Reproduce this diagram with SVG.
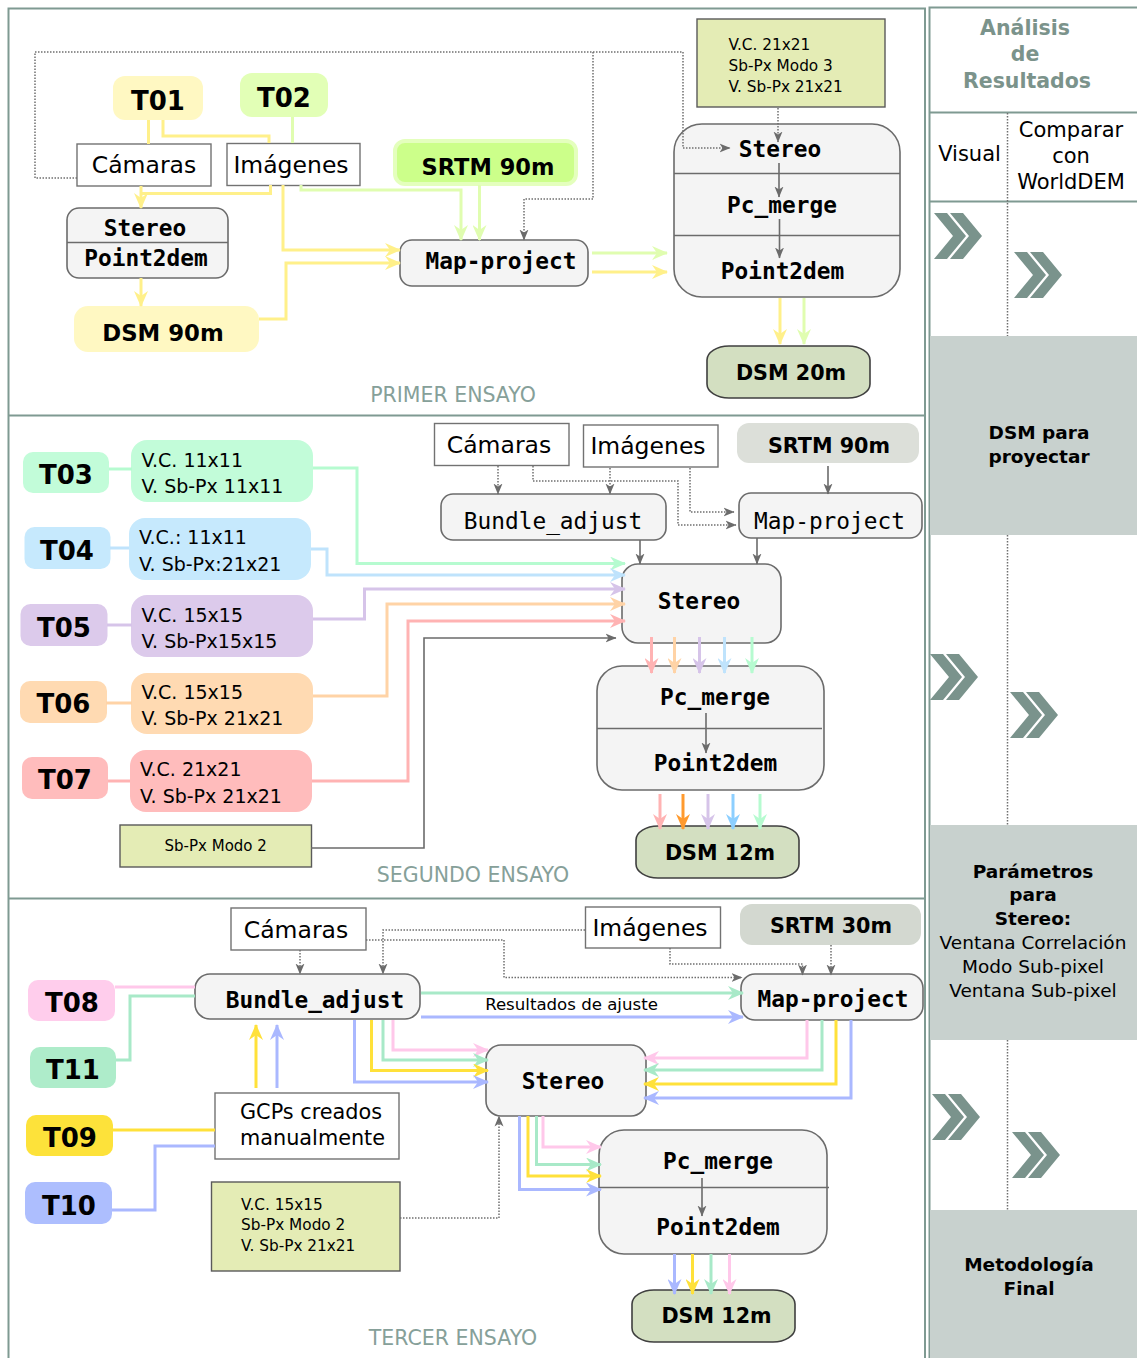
<svg xmlns="http://www.w3.org/2000/svg" width="1137" height="1358" viewBox="0 0 1137 1358">
<style>
  .frame{fill:none;stroke:#7f9a92;stroke-width:2}
  .proc{fill:#f4f4f4;stroke:#6b6b6b;stroke-width:1.6}
  .plain{fill:#fff;stroke:#727272;stroke-width:1.4}
  .param{fill:#e4ecb5;stroke:#5a5a5a;stroke-width:1.4}
  .dsm{fill:#d3dfc1;stroke:#3f3f3f;stroke-width:1.6}
  .sep{stroke:#6b6b6b;stroke-width:1.4}
  .tl{font-family:"DejaVu Sans",sans-serif;font-weight:bold;font-size:26px;text-anchor:middle}
  .bd{font-family:"DejaVu Sans",sans-serif;font-weight:bold;font-size:20.7px;text-anchor:middle}
  .mono{font-family:"DejaVu Sans Mono",monospace;font-weight:bold;font-size:22.8px;text-anchor:middle}
  .monor{font-family:"DejaVu Sans Mono",monospace;font-size:22.8px;text-anchor:middle}
  .lbl{font-family:"DejaVu Sans",sans-serif;font-size:23.5px;text-anchor:middle}
  .par{font-family:"DejaVu Sans",sans-serif;font-size:19px}
  .small{font-family:"DejaVu Sans",sans-serif;font-size:15.3px}
  .sec{font-family:"DejaVu Sans",sans-serif;font-size:20.5px;fill:#86a099;text-anchor:middle}
  .rc{font-family:"DejaVu Sans",sans-serif;font-size:21px;text-anchor:middle}
  .rb{font-family:"DejaVu Sans",sans-serif;font-size:18.5px;font-weight:bold;text-anchor:middle}
  .rn{font-family:"DejaVu Sans",sans-serif;font-size:18.5px;text-anchor:middle}
  .c{fill:none;stroke-width:3}
  .g{fill:none;stroke:#6b6b6b;stroke-width:1.6}
  .d{fill:none;stroke:#6f6f6f;stroke-width:1.5;stroke-dasharray:1.5 1.5}
</style>
<defs>
  <path id="hd" d="M0,0 L16,7 L0,14 L5,7 Z"/>
  <marker id="m-y1" markerUnits="userSpaceOnUse" markerWidth="16" markerHeight="14" viewBox="0 0 16 14" refX="15" refY="7" orient="auto"><use href="#hd" fill="#fff08a"/></marker>
  <marker id="m-g1" markerUnits="userSpaceOnUse" markerWidth="16" markerHeight="14" viewBox="0 0 16 14" refX="15" refY="7" orient="auto"><use href="#hd" fill="#e0fdb0"/></marker>
  <marker id="m-c3" markerUnits="userSpaceOnUse" markerWidth="16" markerHeight="14" viewBox="0 0 16 14" refX="15" refY="7" orient="auto"><use href="#hd" fill="#b6fbd0"/></marker>
  <marker id="m-c4" markerUnits="userSpaceOnUse" markerWidth="16" markerHeight="14" viewBox="0 0 16 14" refX="15" refY="7" orient="auto"><use href="#hd" fill="#bfe3fc"/></marker>
  <marker id="m-c5" markerUnits="userSpaceOnUse" markerWidth="16" markerHeight="14" viewBox="0 0 16 14" refX="15" refY="7" orient="auto"><use href="#hd" fill="#d6c4e9"/></marker>
  <marker id="m-c6" markerUnits="userSpaceOnUse" markerWidth="16" markerHeight="14" viewBox="0 0 16 14" refX="15" refY="7" orient="auto"><use href="#hd" fill="#ffd3a6"/></marker>
  <marker id="m-c7" markerUnits="userSpaceOnUse" markerWidth="16" markerHeight="14" viewBox="0 0 16 14" refX="15" refY="7" orient="auto"><use href="#hd" fill="#ffb3b3"/></marker>
  <marker id="m-c6d" markerUnits="userSpaceOnUse" markerWidth="16" markerHeight="14" viewBox="0 0 16 14" refX="15" refY="7" orient="auto"><use href="#hd" fill="#ff9a2e"/></marker>
  <marker id="m-c4d" markerUnits="userSpaceOnUse" markerWidth="16" markerHeight="14" viewBox="0 0 16 14" refX="15" refY="7" orient="auto"><use href="#hd" fill="#8ccfff"/></marker>
  <marker id="m-c8" markerUnits="userSpaceOnUse" markerWidth="16" markerHeight="14" viewBox="0 0 16 14" refX="15" refY="7" orient="auto"><use href="#hd" fill="#ffc8ea"/></marker>
  <marker id="m-c11" markerUnits="userSpaceOnUse" markerWidth="16" markerHeight="14" viewBox="0 0 16 14" refX="15" refY="7" orient="auto"><use href="#hd" fill="#a8e9c8"/></marker>
  <marker id="m-c9" markerUnits="userSpaceOnUse" markerWidth="16" markerHeight="14" viewBox="0 0 16 14" refX="15" refY="7" orient="auto"><use href="#hd" fill="#ffe13a"/></marker>
  <marker id="m-c10" markerUnits="userSpaceOnUse" markerWidth="16" markerHeight="14" viewBox="0 0 16 14" refX="15" refY="7" orient="auto"><use href="#hd" fill="#aab8ff"/></marker>
  <marker id="m-gr" markerUnits="userSpaceOnUse" markerWidth="11" markerHeight="10" viewBox="0 0 11 10" refX="10.5" refY="5" orient="auto"><path d="M0,0.5 L11,5 L0,9.5 L3,5 Z" fill="#6b6b6b"/></marker>
  <path id="chev" d="M0,0 L13,0 L32,23 L13,46 L0,46 L19,23 Z M16,0 L29,0 L48,23 L29,46 L16,46 L35,23 Z" fill="#7a938c"/>
</defs>

<!-- panel frames -->
<g id="frames">
  <path class="frame" d="M8.5,1358 V8.5 H925 V1358"/>
  <line class="frame" x1="8.5" y1="415.5" x2="925" y2="415.5"/>
  <line class="frame" x1="8.5" y1="898.5" x2="925" y2="898.5"/>
  <path class="frame" d="M929.5,1358 V7.5 H1137"/>
</g>

<!-- results column -->
<g id="analysis">
  <rect x="930" y="336" width="207" height="199" fill="#c8d1ce"/>
  <rect x="930" y="825" width="207" height="215" fill="#c8d1ce"/>
  <rect x="930" y="1210" width="207" height="148" fill="#c8d1ce"/>
  <line class="frame" x1="929.5" y1="112.5" x2="1137" y2="112.5"/>
  <line class="frame" x1="929.5" y1="201.5" x2="1137" y2="201.5"/>
  <g class="d">
    <line x1="1007.5" y1="113" x2="1007.5" y2="336"/>
    <line x1="1007.5" y1="535" x2="1007.5" y2="825"/>
    <line x1="1007.5" y1="1040" x2="1007.5" y2="1210"/>
  </g>
  <g font-family="DejaVu Sans, sans-serif" font-weight="bold" font-size="20.5" fill="#7b938b" text-anchor="middle">
    <text x="1025" y="35">Análisis</text>
    <text x="1025" y="61">de</text>
    <text x="1027" y="88">Resultados</text>
  </g>
  <text class="rc" x="969.5" y="161">Visual</text>
  <text class="rc" x="1071" y="137">Comparar</text>
  <text class="rc" x="1071" y="163">con</text>
  <text class="rc" x="1071" y="189">WorldDEM</text>
  <use href="#chev" x="934" y="213"/>
  <use href="#chev" x="1014" y="252"/>
  <use href="#chev" x="930" y="654"/>
  <use href="#chev" x="1010" y="692"/>
  <use href="#chev" x="932" y="1094"/>
  <use href="#chev" x="1012" y="1132"/>
  <text class="rb" x="1039" y="439">DSM para</text>
  <text class="rb" x="1039" y="463">proyectar</text>
  <text class="rb" x="1033" y="878">Parámetros</text>
  <text class="rb" x="1033" y="901">para</text>
  <text class="rb" x="1033" y="925">Stereo:</text>
  <text class="rn" x="1033" y="949">Ventana Correlación</text>
  <text class="rn" x="1033" y="973">Modo Sub-pixel</text>
  <text class="rn" x="1033" y="997">Ventana Sub-pixel</text>
  <text class="rb" x="1029" y="1271">Metodología</text>
  <text class="rb" x="1029" y="1295">Final</text>
</g>

<!-- first trial nodes -->
<g id="n1-t01"><rect x="113" y="76" width="90" height="44" rx="12" fill="#fff8c2"/><text class="tl" x="158" y="110">T01</text></g>
<g id="n1-t02"><rect x="240" y="73" width="88" height="44" rx="12" fill="#e2ffb6"/><text class="tl" x="284" y="107">T02</text></g>
<g id="n1-camaras"><rect class="plain" x="77" y="144" width="134" height="42"/><text class="lbl" x="144" y="173">Cámaras</text></g>
<g id="n1-imagenes"><rect class="plain" x="227" y="143.5" width="133" height="42"/><text class="lbl" x="291" y="173">Imágenes</text></g>
<g id="n1-srtm"><rect x="395" y="141" width="181" height="43" rx="10" fill="#ccff8a" stroke="#e4ffbd" stroke-width="4"/><text class="bd" x="488" y="175" style="font-size:22.5px">SRTM 90m</text></g>
<g id="n1-stereo"><rect class="proc" x="67" y="208" width="161" height="70" rx="12"/><line class="sep" x1="67" y1="242.5" x2="228" y2="242.5"/><text class="mono" x="145" y="236">Stereo</text><text class="mono" x="146" y="266">Point2dem</text></g>
<g id="n1-dsm90"><rect x="74" y="306" width="185" height="46" rx="14" fill="#fff8c2"/><text class="bd" x="163" y="341" style="font-size:22.8px">DSM 90m</text></g>
<g id="n1-mapproject"><rect class="proc" x="400" y="240" width="188" height="46" rx="12"/><text class="mono" x="501" y="269">Map-project</text></g>
<g id="n1-params"><rect class="param" x="697" y="19" width="188" height="88"/><text class="small" x="728.5" y="50">V.C. 21x21</text><text class="small" x="728.5" y="71">Sb-Px Modo 3</text><text class="small" x="728.5" y="92">V. Sb-Px 21x21</text></g>
<g id="n1-pipeline"><rect class="proc" x="674" y="124" width="226" height="173" rx="28"/><line class="sep" x1="674" y1="173.5" x2="900" y2="173.5" stroke="#8a8a8a"/><line class="sep" x1="674" y1="235.5" x2="900" y2="235.5" stroke="#9a9a9a"/><text class="mono" x="780" y="157">Stereo</text><text class="mono" x="782" y="213">Pc_merge</text><text class="mono" x="782.5" y="279">Point2dem</text></g>
<g id="n1-dsm20"><rect class="dsm" x="707" y="346" width="163" height="52" rx="22" ry="14"/><text class="bd" x="791" y="380">DSM 20m</text></g>
<text class="sec" x="453" y="402">PRIMER ENSAYO</text>

<!-- second trial nodes -->
<g id="n2-t03"><rect x="23" y="452" width="86" height="41" rx="10" fill="#c2fcd9"/><text class="tl" x="66" y="484">T03</text></g>
<g id="n2-p03"><rect x="131" y="440" width="182" height="62" rx="16" fill="#c2fcd9"/><text class="par" x="141.5" y="467">V.C. 11x11</text><text class="par" x="141.5" y="493">V. Sb-Px 11x11</text></g>
<g id="n2-t04"><rect x="24.5" y="527" width="86" height="42" rx="10" fill="#c6e9fd"/><text class="tl" x="67" y="560">T04</text></g>
<g id="n2-p04"><rect x="129" y="518" width="182" height="62" rx="16" fill="#c6e9fd"/><text class="par" x="139" y="544">V.C.: 11x11</text><text class="par" x="139" y="571">V. Sb-Px:21x21</text></g>
<g id="n2-t05"><rect x="20.5" y="604" width="87" height="42" rx="10" fill="#dccaeb"/><text class="tl" x="64" y="637">T05</text></g>
<g id="n2-p05"><rect x="131" y="595" width="182" height="62" rx="16" fill="#dccaeb"/><text class="par" x="141.5" y="622">V.C. 15x15</text><text class="par" x="141.5" y="648">V. Sb-Px15x15</text></g>
<g id="n2-t06"><rect x="20" y="681" width="87" height="42" rx="10" fill="#ffdab2"/><text class="tl" x="63.5" y="713">T06</text></g>
<g id="n2-p06"><rect x="131" y="673" width="182" height="61" rx="16" fill="#ffdab2"/><text class="par" x="141.5" y="699">V.C. 15x15</text><text class="par" x="141.5" y="725">V. Sb-Px 21x21</text></g>
<g id="n2-t07"><rect x="22" y="757" width="86" height="42" rx="10" fill="#ffbcbc"/><text class="tl" x="65" y="789">T07</text></g>
<g id="n2-p07"><rect x="130" y="750" width="182" height="62" rx="16" fill="#ffbcbc"/><text class="par" x="140" y="776">V.C. 21x21</text><text class="par" x="140" y="803">V. Sb-Px 21x21</text></g>
<g id="n2-mode"><rect class="param" x="120" y="825" width="191.5" height="42"/><text class="small" x="215.7" y="851" style="text-anchor:middle;font-size:15px">Sb-Px Modo 2</text></g>
<g id="n2-camaras"><rect class="plain" x="434.5" y="423.5" width="134.5" height="42"/><text class="lbl" x="499" y="453">Cámaras</text></g>
<g id="n2-imagenes"><rect class="plain" x="583.5" y="425" width="134.5" height="42"/><text class="lbl" x="648" y="454">Imágenes</text></g>
<g id="n2-srtm"><rect x="737" y="423" width="182" height="40" rx="12" fill="#dcdfd9"/><text class="bd" x="829" y="453">SRTM 90m</text></g>
<g id="n2-bundle"><rect class="proc" x="441" y="494" width="225" height="46" rx="12"/><text class="monor" x="553" y="529">Bundle_adjust</text></g>
<g id="n2-mapproject"><rect class="proc" x="739" y="493" width="183" height="45" rx="12"/><text class="monor" x="829.5" y="529">Map-project</text></g>
<g id="n2-stereo"><rect class="proc" x="622" y="564" width="159" height="79" rx="16"/><text class="mono" x="699" y="609">Stereo</text></g>
<g id="n2-pcmerge"><rect class="proc" x="597" y="666" width="227" height="124" rx="25"/><line class="sep" x1="597" y1="728.5" x2="822" y2="728.5"/><text class="mono" x="715" y="705">Pc_merge</text><text class="mono" x="715.5" y="771">Point2dem</text></g>
<g id="n2-dsm12"><rect class="dsm" x="636" y="826" width="163" height="52" rx="22" ry="14"/><text class="bd" x="720" y="860">DSM 12m</text></g>
<text class="sec" x="473" y="882">SEGUNDO ENSAYO</text>

<!-- third trial nodes -->
<g id="n3-t08"><rect x="28" y="980" width="87" height="41" rx="10" fill="#ffcdec"/><text class="tl" x="72" y="1012">T08</text></g>
<g id="n3-t11"><rect x="30" y="1047" width="86" height="41" rx="10" fill="#aeecca"/><text class="tl" x="73" y="1079">T11</text></g>
<g id="n3-t09"><rect x="26" y="1115" width="87" height="41" rx="10" fill="#fde23a"/><text class="tl" x="70" y="1147">T09</text></g>
<g id="n3-t10"><rect x="25" y="1182" width="87" height="42" rx="10" fill="#adbefe"/><text class="tl" x="69" y="1215">T10</text></g>
<g id="n3-camaras"><rect class="plain" x="231" y="908" width="135" height="42"/><text class="lbl" x="296" y="938">Cámaras</text></g>
<g id="n3-imagenes"><rect class="plain" x="585.5" y="907" width="135" height="41"/><text class="lbl" x="650" y="936">Imágenes</text></g>
<g id="n3-srtm"><rect x="740" y="904" width="181" height="41" rx="12" fill="#d3d8d0"/><text class="bd" x="831" y="933">SRTM 30m</text></g>
<g id="n3-bundle"><rect class="proc" x="195" y="974" width="225" height="45" rx="15"/><text class="mono" x="315" y="1008">Bundle_adjust</text></g>
<g id="n3-mapproject"><rect class="proc" x="741" y="974" width="182" height="46" rx="14"/><text class="mono" x="833" y="1007">Map-project</text></g>
<g id="n3-gcps"><rect class="plain" x="215" y="1093" width="184" height="66"/><text class="lbl" x="240" y="1119" style="text-anchor:start;font-size:20.8px">GCPs creados</text><text class="lbl" x="240" y="1145" style="text-anchor:start;font-size:20.8px">manualmente</text></g>
<g id="n3-params"><rect class="param" x="211.5" y="1182" width="188.5" height="89"/><text class="small" x="241" y="1210">V.C. 15x15</text><text class="small" x="241" y="1230">Sb-Px Modo 2</text><text class="small" x="241" y="1251">V. Sb-Px 21x21</text></g>
<g id="n3-stereo"><rect class="proc" x="486" y="1045" width="160" height="71" rx="15"/><text class="mono" x="563" y="1089">Stereo</text></g>
<g id="n3-pcmerge"><rect class="proc" x="599" y="1130" width="228" height="124" rx="25"/><line class="sep" x1="599" y1="1187.5" x2="829" y2="1187.5"/><text class="mono" x="718" y="1169">Pc_merge</text><text class="mono" x="718" y="1235">Point2dem</text></g>
<g id="n3-dsm12"><rect class="dsm" x="632" y="1290" width="163" height="52" rx="22" ry="14"/><text class="bd" x="716.5" y="1323">DSM 12m</text></g>
<text class="sec" x="453" y="1345">TERCER ENSAYO</text>

<!-- connectors, drawn over the boxes so the heads reach the edges -->
<g id="connectors">
  <!-- first trial -->
  <g class="c" stroke="#fff08a">
    <path d="M148.5,120 V144"/>
    <path d="M163,120 V136 H269 V143"/>
    <path d="M141,186 V208" marker-end="url(#m-y1)"/>
    <path d="M270.5,185 V193.5 H141"/>
    <path d="M283,185 V250 H400" marker-end="url(#m-y1)"/>
    <path d="M259,319 H286 V263 H400" marker-end="url(#m-y1)"/>
    <path d="M141,278 V306" marker-end="url(#m-y1)"/>
    <path d="M592,272 H667" marker-end="url(#m-y1)"/>
    <path d="M780,298 V344" marker-end="url(#m-y1)"/>
  </g>
  <g class="c" stroke="#e0fdb0">
    <path d="M292.5,117 V143"/>
    <path d="M301,185 V190 H461 V240" marker-end="url(#m-g1)"/>
    <path d="M479.5,185 V240" marker-end="url(#m-g1)"/>
    <path d="M592,253 H667" marker-end="url(#m-g1)"/>
    <path d="M804,298 V344" marker-end="url(#m-g1)"/>
  </g>
  <path class="d" d="M77,178 H35 V52 H683 V148 H730" marker-end="url(#m-gr)"/>
  <path class="d" d="M593,52 V199 H524 V240" marker-end="url(#m-gr)"/>
  <path class="d" d="M778,108 V142" marker-end="url(#m-gr)"/>
  <path class="g" d="M779,163 V197" marker-end="url(#m-gr)"/>
  <path class="g" d="M779.5,219 V258" marker-end="url(#m-gr)"/>

  <!-- second trial -->
  <g class="c">
    <path stroke="#b6fbd0" d="M109,469 H132"/>
    <path stroke="#b6fbd0" d="M313,468 H357 V563.5 H625" marker-end="url(#m-c3)"/>
    <path stroke="#bfe3fc" d="M110,548 H129"/>
    <path stroke="#bfe3fc" d="M311,549 H327 V575 H625" marker-end="url(#m-c4)"/>
    <path stroke="#d6c4e9" d="M107,625 H132"/>
    <path stroke="#d6c4e9" d="M313,619 H364.5 V589 H625" marker-end="url(#m-c5)"/>
    <path stroke="#ffd3a6" d="M106,703 H132"/>
    <path stroke="#ffd3a6" d="M313,696 H387 V604 H625" marker-end="url(#m-c6)"/>
    <path stroke="#ffb3b3" d="M108,781 H130"/>
    <path stroke="#ffb3b3" d="M312,781 H408 V621 H625" marker-end="url(#m-c7)"/>
    <path stroke="#ffb3b3" d="M651.5,637 V673" marker-end="url(#m-c7)"/>
    <path stroke="#ffd3a6" d="M674.5,637 V673" marker-end="url(#m-c6)"/>
    <path stroke="#d6c4e9" d="M699.5,637 V673" marker-end="url(#m-c5)"/>
    <path stroke="#bfe3fc" d="M724.5,637 V673" marker-end="url(#m-c4)"/>
    <path stroke="#b6fbd0" d="M752,637 V673" marker-end="url(#m-c3)"/>
    <path stroke="#ffb3b3" d="M660,794 V829" marker-end="url(#m-c7)"/>
    <path stroke="#ff9a2e" d="M683,794 V829" marker-end="url(#m-c6d)"/>
    <path stroke="#d6c4e9" d="M708,794 V829" marker-end="url(#m-c5)"/>
    <path stroke="#8ccfff" d="M733,794 V829" marker-end="url(#m-c4d)"/>
    <path stroke="#b6fbd0" d="M760,794 V829" marker-end="url(#m-c3)"/>
  </g>
  <path class="g" d="M311,848 H424 V638 H616" marker-end="url(#m-gr)"/>
  <path class="d" d="M498,466 V494" marker-end="url(#m-gr)"/>
  <path class="d" d="M610,468 V494" marker-end="url(#m-gr)"/>
  <path class="d" d="M533,466 V481 H678 V525 H736" marker-end="url(#m-gr)"/>
  <path class="d" d="M690,468 V512 H734" marker-end="url(#m-gr)"/>
  <path class="g" d="M828,466 V494" marker-end="url(#m-gr)"/>
  <path class="g" d="M640,540 V564" marker-end="url(#m-gr)"/>
  <path class="g" d="M757,538 V564" marker-end="url(#m-gr)"/>
  <path class="g" d="M706,713 V753" marker-end="url(#m-gr)"/>

  <!-- third trial -->
  <g class="c">
    <path stroke="#ffc8ea" d="M115,987 H195"/>
    <path stroke="#a8e9c8" d="M116,1060 H130 V996 H195"/>
    <path stroke="#ffe13a" d="M113,1130 H215"/>
    <path stroke="#aab8ff" d="M112,1210 H155 V1146 H215"/>
    <path stroke="#ffe13a" d="M256,1088 V1025" marker-end="url(#m-c9)"/>
    <path stroke="#aab8ff" d="M277,1088 V1025" marker-end="url(#m-c10)"/>
    <path stroke="#a8e9c8" d="M421,993 H743" marker-end="url(#m-c11)"/>
    <path stroke="#aab8ff" d="M421,1017 H743" marker-end="url(#m-c10)"/>
    <path stroke="#ffc8ea" d="M393,1020 V1050 H488" marker-end="url(#m-c8)"/>
    <path stroke="#a8e9c8" d="M383,1020 V1060 H488" marker-end="url(#m-c11)"/>
    <path stroke="#ffe13a" d="M371.5,1020 V1070.5 H488" marker-end="url(#m-c9)"/>
    <path stroke="#aab8ff" d="M354.5,1020 V1082 H488" marker-end="url(#m-c10)"/>
    <path stroke="#ffc8ea" d="M807,1020 V1058 H644" marker-end="url(#m-c8)"/>
    <path stroke="#a8e9c8" d="M822,1020 V1070 H644" marker-end="url(#m-c11)"/>
    <path stroke="#ffe13a" d="M836,1020 V1084 H644" marker-end="url(#m-c9)"/>
    <path stroke="#aab8ff" d="M851,1020 V1098 H644" marker-end="url(#m-c10)"/>
    <path stroke="#ffc8ea" d="M543,1116 V1147 H601" marker-end="url(#m-c8)"/>
    <path stroke="#a8e9c8" d="M536.5,1116 V1164.5 H601" marker-end="url(#m-c11)"/>
    <path stroke="#ffe13a" d="M528,1116 V1176 H601" marker-end="url(#m-c9)"/>
    <path stroke="#aab8ff" d="M519.5,1116 V1189.5 H601" marker-end="url(#m-c10)"/>
    <path stroke="#aab8ff" d="M674.5,1254 V1294" marker-end="url(#m-c10)"/>
    <path stroke="#ffe13a" d="M692.5,1254 V1294" marker-end="url(#m-c9)"/>
    <path stroke="#a8e9c8" d="M711,1254 V1294" marker-end="url(#m-c11)"/>
    <path stroke="#ffc8ea" d="M729.5,1254 V1294" marker-end="url(#m-c8)"/>
  </g>
  <path class="d" d="M300,950 V974" marker-end="url(#m-gr)"/>
  <path class="d" d="M585,930 H383 V974" marker-end="url(#m-gr)"/>
  <path class="d" d="M366,940 H504 V977.5 H742" marker-end="url(#m-gr)"/>
  <path class="d" d="M670,948 V964 H802.5 V975" marker-end="url(#m-gr)"/>
  <path class="d" d="M831,945 V975" marker-end="url(#m-gr)"/>
  <path class="d" d="M400,1218 H499 V1116" marker-end="url(#m-gr)"/>
  <path class="g" d="M702,1178 V1216" marker-end="url(#m-gr)"/>
  <text class="small" x="571.5" y="1010" style="text-anchor:middle;font-size:16.6px">Resultados de ajuste</text>
</g>
</svg>
